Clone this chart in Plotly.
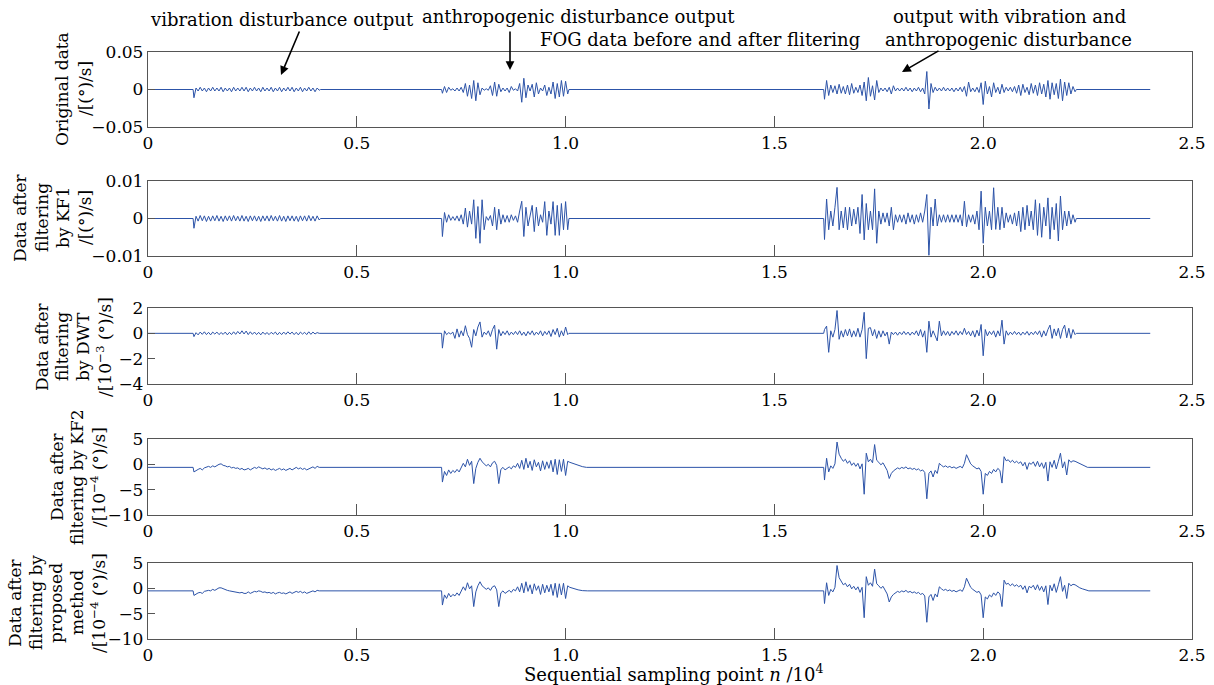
import plotly.graph_objects as go
from plotly.subplots import make_subplots

# ---------------- data ----------------
# x in units of 10^4 samples; each segment = (start, end, values evenly spread)
x_end = 2.4
x_ticks = [0, 0.5, 1.0, 1.5, 2.0, 2.5]
x_tick_text = ["0", "0.5", "1.0", "1.5", "2.0", "2.5"]

# Panel 1: original data, values in 1e-3 (°)/s
orig_base = 0.0
orig_seg1 = [-11, 2, -2, 3, -2, 2, -3, 2, -2, 3, -2, 2, -2, 3, -3, 2, -2, 2, -3, 3, -2, 2, -2, 3, -2, 3, -3, 2, -2, 3,
             -2, 2, -3, 3, -2, 2, -2, 3, -3, 2, -2, 3, -3, 2, -2, 3, -2, 3, -3, 2, -2, 3, -3, 2, -2, 3, -2, 2, -3, 2, -1]
orig_seg2 = [-5, 4, -4, 3, -1, 1, -2, 2, -2, 3, -4, 8, -9, 6, -12, 12, -15, 9, -7, 2, -1, 1, -1, 5, -8, 10, -9, 7, -3, 2,
             -2, 2, -4, 4, -1, 1, -2, 8, -17, 15, -11, 6, -2, 7, -10, 9, -6, 2, -2, 6, -8, 3, -6, 10, -12, 8, -10, 12, -9, 11, -6]
orig_seg3 = [-13, 12, -8, 6, -4, 5, -6, 7, -5, 4, -6, 6, -7, 8, -5, 3, -4, 6, -8, 10, -15, 16, -9, 5, -14, 12, -4, 2, -2, 2,
             -3, 3, -6, 5, -2, 2, -2, 2, -2, 3, -2, 2, -3, 2, -2, 3, -3, 2, -6, 24, -26, 8, -4, 3, -2, 2, -2, 3, -2, 2,
             -2, 2, -3, 2, -2, 3, -3, 4, -9, 10, -3, 2, -3, 3, -4, 9, -20, 11, -6, 4, -10, 9, -4, 3, -6, 7, -4, 3, -2, 3,
             -3, 4, -5, 6, -8, 7, -4, 3, -7, 8, -5, 6, -8, 9, -6, 7, -10, 12, -13, 9, -7, 8, -12, 14, -15, 10, -8, 9, -6, 4, -3]

# Panel 2: KF1, values in 1e-3 (°)/s
kf1_base = 0.0
kf1_seg1 = [-2.6, 0.6, -0.7, 0.8, -0.6, 0.7, -0.8, 0.6, -0.7, 0.7, -0.6, 0.8, -0.7, 0.6, -0.8, 0.7, -0.6, 0.7, -0.7, 0.8,
            -0.6, 0.6, -0.7, 0.8, -0.7, 0.6, -0.8, 0.7, -0.6, 0.7, -0.7, 0.6, -0.8, 0.7, -0.6, 0.7, -0.7, 0.8, -0.6, 0.6,
            -0.7, 0.8, -0.7, 0.6, -0.8, 0.7, -0.6, 0.7, -0.7, 0.6, -0.8, 0.7, -0.6, 0.7, -0.7, 0.8, -0.6, 0.6, -0.7, 0.7, -0.4]
kf1_seg2 = [-4.8, 1.6, -1, 1, -0.5, 0.5, -0.5, 0.7, -0.7, 1, -1.5, 2.8, -2.3, 2, -1.5, 5, -5.3, 3.2, -6.6, 5,
            -3, 0.5, -0.5, 0.8, -2, 3, -3, 2.5, -1.5, 1, -1, 0.8, -1, 1, -0.5, 0.7, -1, 2, 4.6, -4.8,
            3, -2, 1, 3.5, -3.5, 3, -2, 1, -1, 4.5, -4.5, 2, -1.5, 4.5, -4.5, 3.5, -4.5, 4, -3, 4.5, -3]
kf1_seg3 = [-5.6, 5.2, -3, 2, -2, 3, 8.3, -3, 2, -2.5, 3, -3, 3, -2, 2.5, -1.5, 3, -4, 6.4, -5.7,
            4, -3, 2, -3, 7.9, -6.6, 2, -1.5, 1.5, -1, 1.5, -2, 3, -3, 1, -1, 1, -1, 1, -1.5,
            1.5, -1, 1, -1.5, 1, -1, 1.5, -1, 2, 6.4, -9.8, 3, -2, 5.2, -2, 1, -1, 1, -1, 1,
            -1, 1, -1, 1, -1, 1, -2, 4.6, -2.2, 1, -1, 1, -1.5, 2, -3, 7.3, -6.6, 3, -2, 2,
            -3, 8.2, -2.9, 3, -3, 3, -2.5, 1.5, -1, 1, -1.5, 1.5, -2, 2, -3.5, 3, -3, 3.5, -2, 2,
            -3, 5, -4.5, 4, -5, 3, -2, 5.5, -5.5, 3, -3, 4, -6, 6, -3, 2, -2, 2, -1.5, 1, -1]

# Panel 3: DWT, values in 1e-3 (°)/s
dwt_base = 0.0
dwt_seg1 = [-0.26, 0.05, -0.12, 0.1, -0.08, 0.12, -0.1, 0.08, -0.12, 0.1, -0.06, 0.1, -0.1, 0.06, -0.08, 0.1, -0.12,
            0.08, -0.1, 0.12, -0.08, 0.15, -0.05, 0.2, -0.05, 0.18, -0.1, 0.12, -0.08, 0.1, -0.1, 0.08, -0.12, 0.1,
            -0.08, 0.06, -0.1, 0.08, -0.06, 0.1, -0.12, 0.08, -0.1, 0.1, -0.08, 0.12, -0.06, 0.1, -0.1, 0.08, -0.12,
            0.1, -0.06, 0.08, -0.1, 0.12, -0.08, 0.1, -0.05, 0.06, 0.0]
dwt_seg2 = [-1.17, 0.2, -0.1, 0.05, -0.05, 0.1, -0.4, 0.35, -0.3, 0.2, -0.2, 0.6, -0.1, -0.4, -1.1, 0.3, -0.2, 0.5,
            0.9, -0.3, 0.1, -0.1, 0.2, -0.25, 0.3, 0.65, -1.25, 0.3, -0.2, 0.15, -0.1, 0.2, -0.15, 0.1, -0.1, 0.15,
            -0.1, 0.2, -0.15, 0.1, -0.2, 0.15, -0.1, 0.2, -0.15, 0.1, -0.1, 0.2, -0.2, 0.15, -0.1, 0.2, -0.25, 0.3,
            -0.1, 0.4, -0.3, 0.2, -0.2, 0.5, -0.1]
dwt_seg3 = [0.3, 0.57, -1.5, 0.2, -0.3, 0.3, 1.8, -0.47, 0.2, -0.3, 0.3, -0.2, 0.35, -0.3, 0.2, -0.25, 0.4, -0.3,
            0.3, 1.66, -2.0, 0.4, 0.45, -0.2, 0.3, -0.4, 0.2, -0.3, 0.2, -0.2, 0.1, -0.85, 0.1, -0.1, 0.1, -0.15,
            0.1, -0.1, 0.15, -0.1, 0.1, -0.15, 0.1, -0.1, 0.2, -0.2, 0.3, -0.3, 0.2, -1.5, 0.96, -0.3, 0.2, -0.2,
            -0.6, 0.96, -0.2, 0.2, -0.15, 0.15, -0.2, 0.15, -0.1, 0.2, -0.15, 0.15, -0.1, 0.4, -0.1, 0.15, -0.2,
            0.2, -0.3, 0.25, -0.2, 0.7, -1.77, 0.3, -0.2, 0.15, -0.1, 0.2, -0.3, 0.2, -0.2, 1.04, -0.85, 0.2,
            -0.15, 0.1, -0.1, 0.15, -0.1, 0.1, -0.15, 0.1, -0.1, 0.15, -0.15, 0.1, -0.1, 0.15, -0.1, 0.2, -0.3,
            0.2, -0.2, 0.3, 0.65, -0.4, 0.35, -0.2, 0.4, -0.4, 0.3, 0.65, -0.35, 0.4, -0.4, 0.3, -0.1]

# Panel 4: KF2, values in 1e-4 (°)/s
kf2_base = -0.6
kf2_seg1 = [-1.5, -1.2, -1.0, -0.8, -1.1, -0.7, -0.6, -0.4, -0.6, -0.3, -0.5, -0.2, 0.0, 0.1, -0.2, -0.3, -0.5,
            -0.4, -0.7, -0.6, -0.8, -0.7, -1.0, -0.8, -1.1, -1.0, -0.8, -1.1, -0.9, -0.6, -0.8, -0.5, -0.7, -0.9,
            -0.7, -1.0, -0.8, -1.1, -0.9, -1.2, -1.0, -0.8, -1.1, -0.9, -1.2, -1.0, -0.8, -1.1, -0.9, -0.6, -0.9,
            -0.7, -1.0, -0.8, -1.1, -0.9, -0.7, -0.5, -0.8, -0.4, -0.6]
kf2_seg2 = [-3.5, -1.4, -2.2, -1.1, -1.8, -1.2, -1.6, -1.0, -1.5, -0.6, 0.2, -0.5, 1.0, -0.2, 0.6, -3.8, -0.8, 0.4,
            1.2, 0.5, 0.1, -0.3, 0.0, -0.5, 0.3, 0.6, -0.2, -3.8, -1.0, -0.6, -1.1, -0.8, -0.5, -0.9, -0.3, -0.6,
            0.2, -0.8, 0.8, -1.0, 1.2, -0.7, 0.6, -1.2, 0.9, -0.5, 0.4, -1.3, 0.7, -1.0, 0.5, -0.8, 0.8, -1.5, 1.0,
            -2.0, 0.9, -1.4, 1.0, -2.2, 0.6]
kf2_tail2 = [0.4, 0.1, -0.2, -0.45, -0.6]
kf2_seg3 = [-3.1, 1.2, -1.5, -0.3, -0.8, 0.1, 4.4, 2.0, 1.2, 0.6, 1.0, 0.2, 0.7, -0.2, 0.3, -0.4, 0.2, -0.9, 0.1,
            -5.9, 2.2, 0.5, 1.0, 0.3, 3.9, 0.8, 0.4, -0.1, 0.3, -0.5, -1.2, -2.8, -1.8, -1.3, -1.0, -0.7, -0.9, -0.6,
            -0.8, -0.5, -0.9, -0.7, -1.0, -0.8, -1.1, -0.9, -1.3, -1.1, -1.6, -6.8, -1.8, -1.3, -2.5, -1.2, -1.8,
            0.2, -0.2, -0.5, -0.3, -0.6, -0.4, -0.7, -0.5, -0.8, -0.6, -0.4, -0.7, 0.2, 1.9, 0.8, 0.1, -0.3, -0.6,
            -0.9, -0.7, -1.4, -5.9, -1.8, -2.2, -1.4, -1.8, -1.0, -1.5, -0.8, -1.2, -3.7, 1.5, 0.7, 0.9, 0.4, 0.8,
            0.3, 0.6, 0.2, 0.5, -0.3, 0.4, -1.0, 0.3, 0.0, 0.5, -0.4, 0.6, -0.5, 0.3, -0.8, 0.4, -3.3, 0.5, -0.6,
            0.8, -0.9, 0.6, 2.2, -0.7, 0.5, -2.1, 0.9, 0.4, 0.7, 0.6]
kf2_tail3 = [0.4, 0.1, -0.2, -0.4, -0.6]

# Panel 5: proposed method, values in 1e-4 (°)/s
prop_base = -0.5
prop_seg1 = [-1.4, -1.1, -0.9, -0.8, -1.0, -0.6, -0.5, -0.4, -0.5, -0.2, -0.4, -0.2, 0.1, 0.1, -0.1, -0.3, -0.4,
             -0.5, -0.6, -0.6, -0.7, -0.8, -0.9, -0.8, -1.0, -1.0, -0.7, -1.0, -0.8, -0.6, -0.7, -0.5, -0.6, -0.8,
             -0.7, -0.9, -0.8, -1.0, -0.8, -1.1, -0.9, -0.8, -1.0, -0.9, -1.1, -0.9, -0.7, -1.0, -0.8, -0.6, -0.8,
             -0.6, -0.9, -0.7, -1.0, -0.8, -0.6, -0.5, -0.7, -0.4, -0.5]
prop_seg2 = [-3.3, -1.3, -2.0, -1.0, -1.7, -1.2, -1.5, -0.9, -1.4, -0.5, 0.3, -0.4, 1.1, -0.1, 0.5, -3.6, -0.7, 0.5,
             1.3, 0.5, 0.2, -0.2, 0.1, -0.4, 0.3, 0.5, -0.3, -3.6, -0.9, -0.5, -1.0, -0.7, -0.4, -0.8, -0.2, -0.5,
             0.3, -0.7, 1.0, -0.9, 1.3, -0.6, 0.7, -1.1, 0.9, -0.4, 0.5, -1.2, 0.8, -0.9, 0.6, -0.7, 0.8, -1.4, 1.0,
             -1.8, 0.9, -1.3, 1.0, -2.0, 0.5]
prop_tail2 = [0.2, -0.1, -0.3, -0.45, -0.5]
prop_seg3 = [-3.0, 1.1, -1.4, -0.2, -0.7, 0.2, 4.5, 2.1, 1.3, 0.7, 1.0, 0.3, 0.8, -0.1, 0.4, -0.3, 0.3, -0.8, 0.2,
             -5.8, 2.3, 0.6, 1.1, 0.4, 3.8, 0.9, 0.5, 0.0, 0.4, -0.4, -1.1, -2.7, -1.7, -1.2, -0.9, -0.6, -0.8, -0.5,
             -0.7, -0.4, -0.8, -0.6, -0.9, -0.7, -1.0, -0.8, -1.2, -1.0, -1.5, -6.7, -1.7, -1.2, -2.4, -1.1, -1.7,
             0.3, -0.1, -0.4, -0.2, -0.5, -0.3, -0.6, -0.4, -0.7, -0.5, -0.3, -0.6, 0.3, 2.0, 0.9, 0.2, -0.2, -0.5,
             -0.8, -0.6, -1.3, -5.8, -1.7, -2.1, -1.3, -1.7, -0.9, -1.4, -0.7, -1.1, -3.6, 1.6, 0.8, 1.0, 0.5, 0.9,
             0.4, 0.7, 0.3, 0.6, -0.2, 0.5, -0.9, 0.4, 0.1, 0.6, -0.3, 0.7, -0.4, 0.4, -0.7, 0.5, -3.2, 0.6, -0.5,
             0.9, -0.8, 0.7, 2.3, -0.6, 0.6, -2.0, 1.0, 0.5, 0.8, 0.7]
prop_tail3 = [0.4, 0.1, -0.1, -0.3, -0.5]

# segment spans (10^4 samples)
span1 = (0.11, 0.41)
span2 = (0.705, 1.005)
span2_tail = (1.01, 1.05)
span3 = (1.62, 2.22)
span3_tail = (2.225, 2.25)


def build(base, segments, scale=1.0):
    """Baseline from 0 to x_end, with the listed segments of samples in between."""
    b0 = base * scale
    xs, ys = [0.0], [b0]
    prev_end = None
    for (a, b), vals in segments:
        n = len(vals)
        if prev_end is None or a - prev_end > 0.02:
            if prev_end is not None:
                xs.append(prev_end + 0.003)
                ys.append(b0)
            xs.append(a - 0.002)
            ys.append(b0)
        for i, v in enumerate(vals):
            xs.append(a + (b - a) * i / (n - 1))
            ys.append(v * scale)
        prev_end = b
    xs.append(prev_end + 0.003)
    ys.append(b0)
    xs.append(x_end)
    ys.append(b0)
    return xs, ys


panels = [
    build(orig_base, [(span1, orig_seg1), (span2, orig_seg2), (span3, orig_seg3)], 1e-3),
    build(kf1_base, [(span1, kf1_seg1), (span2, kf1_seg2), (span3, kf1_seg3)], 1e-3),
    build(dwt_base, [(span1, dwt_seg1), (span2, dwt_seg2), (span3, dwt_seg3)]),
    build(kf2_base, [(span1, kf2_seg1), (span2, kf2_seg2), (span2_tail, kf2_tail2),
                     (span3, kf2_seg3), (span3_tail, kf2_tail3)]),
    build(prop_base, [(span1, prop_seg1), (span2, prop_seg2), (span2_tail, prop_tail2),
                      (span3, prop_seg3), (span3_tail, prop_tail3)]),
]

y_ranges = [[-0.05, 0.05], [-0.01, 0.01], [-4, 2], [-10, 5], [-10, 5]]
y_ticks = [[-0.05, 0, 0.05], [-0.01, 0, 0.01], [-4, -2, 0, 2], [-10, -5, 0, 5], [-10, -5, 0, 5]]
y_tick_text = [["\u22120.05", "0", "0.05"], ["\u22120.01", "0", "0.01"], ["\u22124", "\u22122", "0", "2"],
               ["\u221210", "\u22125", "0", "5"], ["\u221210", "\u22125", "0", "5"]]

# ---------------- layout ----------------
W, H = 1214, 685
FONT = "DejaVu Serif"
LINE = "#2c53a8"
AX = "#555555"
box_px = [(52, 127), (181, 256), (308, 384), (439, 515), (563, 639)]
x_dom = [148 / W, 1192 / W]

fig = make_subplots(rows=5, cols=1)
for i, (xs, ys) in enumerate(panels):
    fig.add_trace(go.Scatter(x=xs, y=ys, mode="lines", line=dict(color=LINE, width=1.0),
                             showlegend=False, hoverinfo="skip"), row=i + 1, col=1)
    t, b = box_px[i]
    sfx = "" if i == 0 else str(i + 1)
    fig.layout["xaxis" + sfx].update(
        domain=x_dom, range=[0, 2.5], tickvals=x_ticks, ticktext=x_tick_text, automargin=False,
        ticks="inside", ticklen=11, tickcolor=AX, showline=True, linecolor=AX, linewidth=1.3,
        mirror=True, showgrid=False, zeroline=False, tickfont=dict(family=FONT, size=17, color="black"))
    fig.layout["yaxis" + sfx].update(
        domain=[1 - b / H, 1 - t / H], range=y_ranges[i], tickvals=y_ticks[i], ticktext=y_tick_text[i],
        automargin=False,
        ticks="inside", ticklen=7, tickcolor=AX, showline=True, linecolor=AX, linewidth=1.3,
        mirror=True, showgrid=False, zeroline=False, tickfont=dict(family=FONT, size=17, color="black"))

annotations = []


def txt(text, px, py, angle=0, size=17):
    annotations.append(dict(text=text, x=px / W, y=1 - py / H, xref="paper", yref="paper",
                            xanchor="center", yanchor="middle", showarrow=False, textangle=angle,
                            font=dict(family=FONT, size=size, color="black")))


# y-axis titles (one rotated annotation per line)
ylabels = [
    (["Original data", "/[(°)/s]"], [62, 85], 89),
    (["Data after", "filtering", "by KF1", "/[(°)/s]"], [20, 42, 63, 85], 218),
    (["Data after", "filtering", "by DWT", "/[10<sup>\u22123</sup> (°)/s]"], [42, 62, 83, 104], 347),
    (["Data after", "filtering by KF2", "/[10<sup>\u22124</sup> (°)/s]"], [57, 77, 98], 477),
    (["Data after", "filtering by", "proposed", "method", "/[10<sup>\u22124</sup> (°)/s]"],
     [15, 36, 56, 77, 98], 603),
]
for lines, xs_px, ycen in ylabels:
    for s, xp in zip(lines, xs_px):
        txt(s, xp, ycen, angle=-90)

# top texts
txt("vibration disturbance output", 282, 20, size=18)
txt("anthropogenic disturbance output", 578, 16, size=18)
txt("FOG data before and after flitering", 700, 39, size=18)
txt("output with vibration and", 1009, 17, size=18)
txt("anthropogenic disturbance", 1008, 39, size=18)
txt("Sequential sampling point <i>n</i> /10<sup>4</sup>", 673, 673, size=18)

# arrows
for tip, tail in [((281, 75), (300, 30)), ((510, 70), (510, 30)), ((902, 72), (940, 50))]:
    annotations.append(dict(text="", x=tip[0] / W, y=1 - tip[1] / H, xref="paper", yref="paper",
                            showarrow=True, ax=tail[0] - tip[0], ay=tail[1] - tip[1],
                            arrowhead=2, arrowsize=1.1, arrowwidth=1.6, arrowcolor="black"))

fig.update_layout(width=W, height=H, margin=dict(l=0, r=0, t=0, b=0, autoexpand=False),
                  paper_bgcolor="white", plot_bgcolor="white", annotations=annotations,
                  font=dict(family=FONT, size=17, color="black"))

fig.write_html("out.html", config={"displayModeBar": False},
               post_script="document.body.style.margin='0';document.body.style.overflow='hidden';")
